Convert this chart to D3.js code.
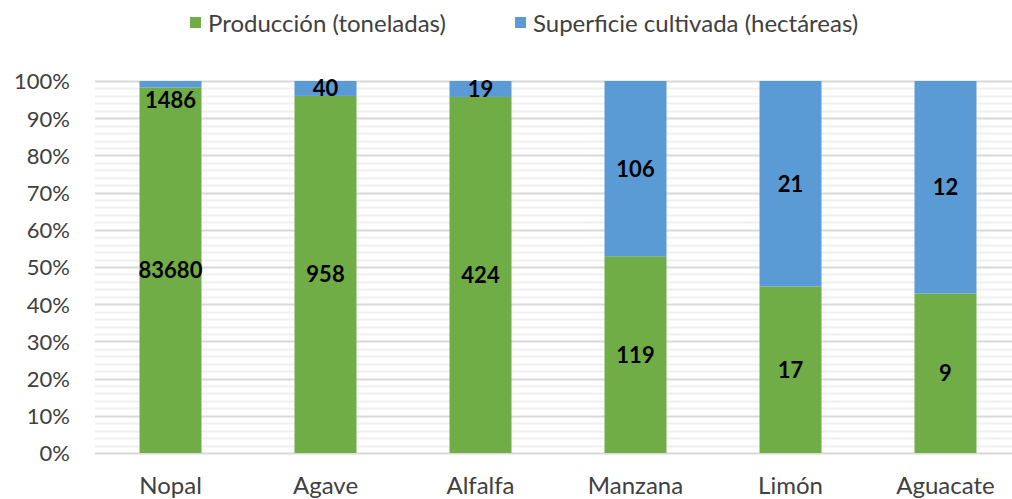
<!DOCTYPE html>
<html>
<head>
<meta charset="utf-8">
<script src="https://cdn.jsdelivr.net/npm/d3@7"></script>
<style>
  body { margin: 0; background: #fff; }
  text { font-family: Lato, "Open Sans", sans-serif; }
</style>
</head>
<body>
<script>
// cultivos y valores
var cultivos = ['Nopal', 'Agave', 'Alfalfa', 'Manzana', 'Limón', 'Aguacate']
var produccion = [83680, 958, 424, 119, 17, 9]
var superficie = [1486, 40, 19, 106, 21, 12]
var series = ['Producción (toneladas)', 'Superficie cultivada (hectáreas)']
var yTicks = [0, 0.1, 0.2, 0.3, 0.4, 0.5, 0.6, 0.7, 0.8, 0.9, 1]

var width = 1012,
    height = 499
var colors = ['#70ad47', '#5b9bd5']

var svg = d3.select('body').append('svg')
    .attr('width', width)
    .attr('height', height)

var x = d3.scaleBand()
    .domain(cultivos)
    .range([93, 1023])
    .paddingInner(0.6)
    .paddingOuter(0.3)

var y = d3.scaleLinear()
    .domain([0, 1])
    .range([453, 81])

var rows = cultivos.map((c, i) => ({
    cultivo: c,
    prod: produccion[i],
    sup: superficie[i],
    total: produccion[i] + superficie[i]
}))

// minor gridlines every 2%
svg.append('g').selectAll('line')
    .data(d3.range(0, 1.001, 0.02).filter(v => Math.round(v * 100) % 10 != 0))
    .enter().append('line')
    .attr('x1', 95).attr('x2', width)
    .attr('y1', d => Math.round(y(d)) + 0.5).attr('y2', d => Math.round(y(d)) + 0.5)
    .attr('stroke', '#f0f0f0')
    .attr('stroke-width', 2)

// major gridlines
svg.append('g').selectAll('line')
    .data(yTicks)
    .enter().append('line')
    .attr('x1', 95).attr('x2', width)
    .attr('y1', d => Math.round(y(d)) + 0.5).attr('y2', d => Math.round(y(d)) + 0.5)
    .attr('stroke', '#d9d9d9')
    .attr('stroke-width', 2)

// y axis labels
var yAxis = svg.append('g')
    .attr('transform', 'translate(70,0)')
    .call(d3.axisLeft(y).tickValues(yTicks).tickFormat(d3.format('.0%')).tickSize(0).tickPadding(0))
yAxis.select('.domain').remove()
yAxis.selectAll('text')
    .attr('font-size', 22)
    .attr('fill', '#404040')
    .attr('dy', '0.36em')

// x axis labels
var xAxis = svg.append('g')
    .attr('transform', 'translate(0,494)')
    .call(d3.axisBottom(x).tickSize(0).tickPadding(0))
xAxis.select('.domain').remove()
xAxis.selectAll('text')
    .attr('font-size', 24)
    .attr('fill', '#404040')
    .attr('y', 0)
    .attr('dy', 0)

// bars
var bars = svg.append('g')
rows.forEach(d => {
    var p = d.prod / d.total
    bars.append('rect')
        .attr('x', x(d.cultivo)).attr('width', x.bandwidth())
        .attr('y', y(p)).attr('height', y(0) - y(p))
        .attr('fill', colors[0])
    bars.append('rect')
        .attr('x', x(d.cultivo)).attr('width', x.bandwidth())
        .attr('y', y(1)).attr('height', y(p) - y(1))
        .attr('fill', colors[1])
})

// data labels
var labels = svg.append('g')
    .attr('font-size', 22)
    .attr('font-weight', 'bold')
    .attr('fill', '#000')
    .attr('text-anchor', 'middle')
rows.forEach(d => {
    var p = d.prod / d.total
    var cx = x(d.cultivo) + x.bandwidth() / 2
    labels.append('text')
        .attr('x', cx).attr('y', (y(0) + y(p)) / 2)
        .attr('dy', '0.36em')
        .text(d.prod)
    var top = (y(p) + y(1)) / 2
    // tiny segment: excel pushes the label below it
    if (y(p) - y(1) < 10) top = y(p) + 13
    labels.append('text')
        .attr('x', cx).attr('y', top)
        .attr('dy', '0.36em')
        .text(d.sup)
})

// legend
var legend = svg.append('g')
var lx = [190, 515]
series.forEach((s, i) => {
    legend.append('rect')
        .attr('x', lx[i]).attr('y', 17)
        .attr('width', 11).attr('height', 11)
        .attr('fill', colors[i])
    legend.append('text')
        .attr('x', lx[i] + 18).attr('y', 32)
        .attr('font-size', 24)
        .attr('fill', '#404040')
        .text(s)
})
</script>
</body>
</html>
